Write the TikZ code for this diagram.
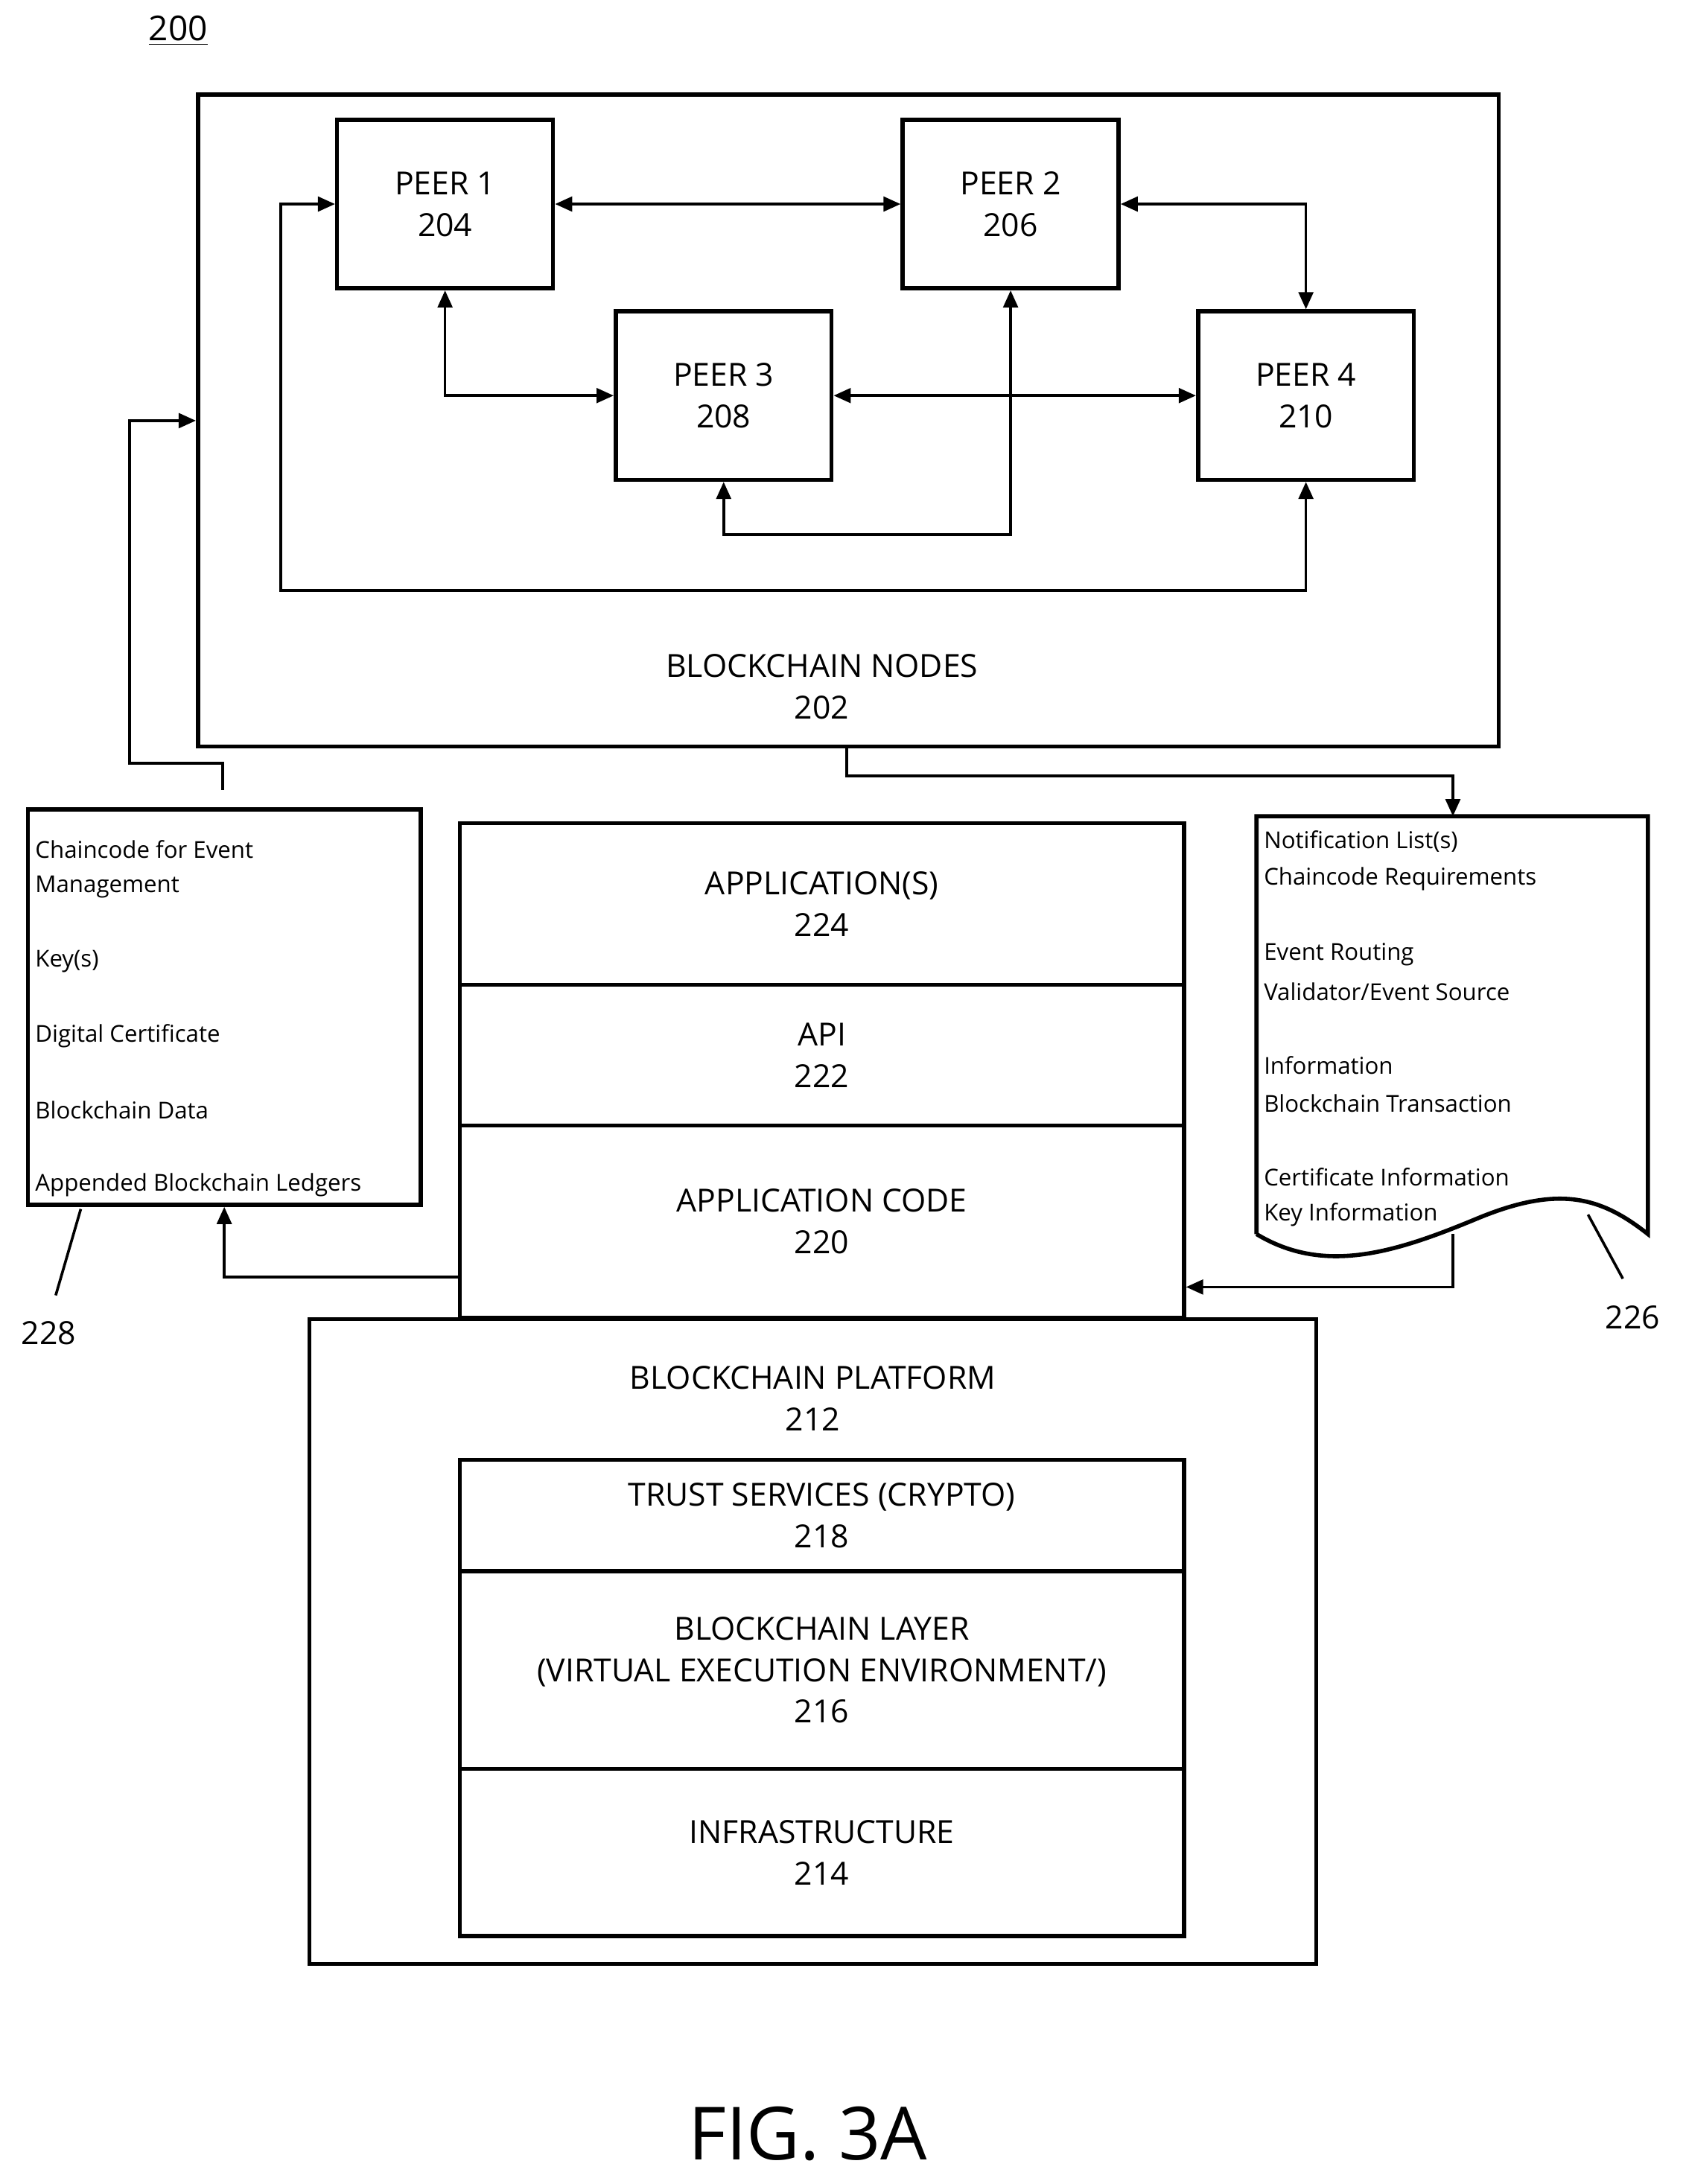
\documentclass[tikz,border=0pt]{standalone}
\usepackage{fontspec}
\setmainfont{Open Sans}
\usetikzlibrary{arrows.meta,positioning}

\tikzset{
  box/.style={draw, line width=1.7pt, align=center, inner sep=0pt, font=\fontsize{13}{17}\selectfont},
  lbl/.style={align=center, font=\fontsize{13}{17}\selectfont},
  item/.style={anchor=west, inner sep=0pt, font=\fontsize{9.5}{12}\selectfont},
  link/.style={line width=1.1pt, {Triangle[length=7pt,width=6pt]}-{Triangle[length=7pt,width=6pt]}},
  feed/.style={line width=1.1pt, -{Triangle[length=7pt,width=6pt]}}
}

\begin{document}
\begin{tikzpicture}[x=0.02cm, y=-0.02cm]
   \useasboundingbox (0,0) rectangle (1210,1568);

   \node[lbl, font=\fontsize{14}{17}\selectfont] (fignum) at (128,22) {\underline{200}};

   % Blockchain nodes
   \node[box, minimum width=18.68cm, minimum height=9.36cm] (nodes) at (609,302) {};
   \node[lbl] (nodeslbl) at (590,493) {BLOCKCHAIN NODES\\202};
   \node[box, minimum width=3.1cm, minimum height=2.42cm] (peer1) at (319.5,146.5) {PEER 1\\204};
   \node[box, minimum width=3.1cm, minimum height=2.42cm] (peer2) at (725.5,146.5) {PEER 2\\206};
   \node[box, minimum width=3.1cm, minimum height=2.42cm] (peer3) at (519.5,284) {PEER 3\\208};
   \node[box, minimum width=3.1cm, minimum height=2.42cm] (peer4) at (937.5,284) {PEER 4\\210};

   \draw[link] (peer1.east) -- (peer2.west);
   \draw[link] (peer2.east) -| (peer4.north);
   \draw[link] (peer1.south) |- (peer3.west);
   \draw[link] (peer3.east) -- (peer4.west);
   \draw[link] (peer3.south) -- ++(0,38) -| (peer2.south);
   \draw[link] (peer1.west) -- ++(-39,0) |- (937.5,424) -- (peer4.south);

   % Stack
   \node[box, minimum width=10.4cm, minimum height=2.32cm] (apps) at (590,649) {APPLICATION(S)\\224};
   \node[box, minimum width=10.4cm, minimum height=2.02cm] (api) at (590,757.5) {API\\222};
   \node[box, minimum width=10.4cm, minimum height=2.76cm] (appcode) at (590,877) {APPLICATION CODE\\220};
   \node[box, minimum width=14.46cm, minimum height=9.26cm] (platform) at (583.5,1178.5) {};
   \node[lbl] (platlbl) at (583.5,1004) {BLOCKCHAIN PLATFORM\\212};
   \node[box, minimum width=10.4cm, minimum height=1.6cm] (trust) at (590,1088) {TRUST SERVICES (CRYPTO)\\218};
   \node[box, minimum width=10.4cm, minimum height=2.84cm] (layer) at (590,1199) {BLOCKCHAIN LAYER\\(VIRTUAL EXECUTION ENVIRONMENT/)\\216};
   \node[box, minimum width=10.4cm, minimum height=2.4cm] (infra) at (590,1330) {INFRASTRUCTURE\\214};

   % Chaincode box 228
   \node[box, minimum width=5.64cm, minimum height=5.68cm] (chain) at (161,723) {};
   \node[item] at (25,610) {Chaincode for Event};
   \node[item] at (25,637) {Management};
   \node[item] at (25,690) {Key(s)};
   \node[item] at (25,744) {Digital Certificate};
   \node[item] at (25,797) {Blockchain Data};
   \node[item] at (25,851) {Appended Blockchain Ledgers};

   \coordinate (chaintop) at (160,567);
   \draw[feed] (chaintop) -- (160,548) -| (93,302) -- (nodes.west |- 0,302);
   \draw[feed] (appcode.west |- 0,917) -| (chain.south);

   % Document 226
   \draw[line width=1.7pt] (902,886) -- (902,586) coordinate (doctl) -- (1183,586) -- (1183,886)
     .. controls (1150,860) and (1120,850) .. (1060,875)
     .. controls (1000,900) and (950,915) .. (902,886);
   \coordinate (doctop) at (1043,586);
   \coordinate (docbot) at (1043,886);
   \node[item] at (907,604) {Notification List(s)};
   \node[item] at (907,631) {Chaincode Requirements};
   \node[item] at (907,685) {Event Routing};
   \node[item] at (907,712) {Validator/Event Source};
   \node[item] at (907,765) {Information};
   \node[item] at (907,792) {Blockchain Transaction};
   \node[item] at (907,845) {Certificate Information};
   \node[item] at (907,872) {Key Information};

   \draw[feed] (608,536) -- (608,557) -| (doctop);
   \draw[feed] (docbot) |- (appcode.east |- 0,924);

   % reference labels
   \node[lbl] (ref228) at (35,957) {228};
   \node[lbl] (ref226) at (1172,946) {226};
   \draw[line width=1.1pt] (40,930) -- (58,868);
   \draw[line width=1.1pt] (1165,918) -- (1140,872);

   \node[font=\fontsize{30}{36}\selectfont] (fig) at (580,1532) {FIG. 3A};
\end{tikzpicture}
\end{document}
